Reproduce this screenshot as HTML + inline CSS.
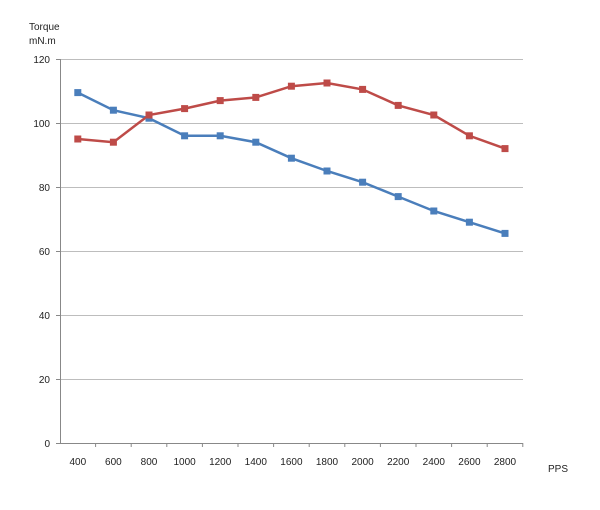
<!DOCTYPE html>
<html><head><meta charset="utf-8"><style>body{margin:0;background:#fff}svg{display:block}text{font-family:"Liberation Sans",sans-serif;fill:#222}</style></head>
<body>
<svg width="600" height="510" viewBox="0 0 600 510" xmlns="http://www.w3.org/2000/svg">
<text x="29" y="30" font-size="10">Torque</text>
<text x="29" y="44" font-size="10">mN.m</text>
<g stroke="#bdbdbd" stroke-width="1">
<line x1="60" y1="59.5" x2="523" y2="59.5"/><line x1="60" y1="123.5" x2="523" y2="123.5"/><line x1="60" y1="187.5" x2="523" y2="187.5"/><line x1="60" y1="251.5" x2="523" y2="251.5"/><line x1="60" y1="315.5" x2="523" y2="315.5"/><line x1="60" y1="379.5" x2="523" y2="379.5"/>
</g>
<g stroke="#888" stroke-width="1">
<line x1="60.5" y1="59" x2="60.5" y2="443"/><line x1="56" y1="443.5" x2="523" y2="443.5"/>
<line x1="56" y1="59.5" x2="60" y2="59.5"/><line x1="56" y1="123.5" x2="60" y2="123.5"/><line x1="56" y1="187.5" x2="60" y2="187.5"/><line x1="56" y1="251.5" x2="60" y2="251.5"/><line x1="56" y1="315.5" x2="60" y2="315.5"/><line x1="56" y1="379.5" x2="60" y2="379.5"/>
</g>
<g font-size="10" text-anchor="end">
<text x="50" y="63">120</text><text x="50" y="127">100</text><text x="50" y="191">80</text><text x="50" y="255">60</text><text x="50" y="319">40</text><text x="50" y="383">20</text><text x="50" y="447">0</text>
</g>
<g id="ticks" stroke="#888"></g>
<g id="lab" font-size="10" text-anchor="middle"></g>
<text x="548" y="472" font-size="10">PPS</text>
<polyline id="b" fill="none" stroke="#4a7ebb" stroke-width="2.5"/>
<polyline id="r" fill="none" stroke="#be4b48" stroke-width="2.5"/>
<g id="bm" fill="#4a7ebb"></g><g id="rm" fill="#be4b48"></g>
<script>
var B=[109.5,104,101.5,96,96,94,89,85,81.5,77,72.5,69,65.5],R=[95,94,102.5,104.5,107,108,111.5,112.5,110.5,105.5,102.5,96,92];
var ns="http://www.w3.org/2000/svg";function el(t,a,p){var e=document.createElementNS(ns,t);for(var k in a)e.setAttribute(k,a[k]);document.getElementById(p).appendChild(e);return e;}
var bp=[],rp=[];
for(var i=0;i<13;i++){var x=60+17.8+i*35.6;
el("line",{x1:60+(i+1)*35.6,y1:443,x2:60+(i+1)*35.6,y2:447},"ticks");
el("text",{x:x,y:465},"lab").textContent=400+i*200;
var yb=443-B[i]*3.2,yr=443-R[i]*3.2;bp.push(x+","+yb);rp.push(x+","+yr);
el("rect",{x:x-3.5,y:yb-3.5,width:7,height:7},"bm");el("rect",{x:x-3.5,y:yr-3.5,width:7,height:7},"rm");}
document.getElementById("b").setAttribute("points",bp.join(" "));document.getElementById("r").setAttribute("points",rp.join(" "));
</script>
</svg>
</body></html>
